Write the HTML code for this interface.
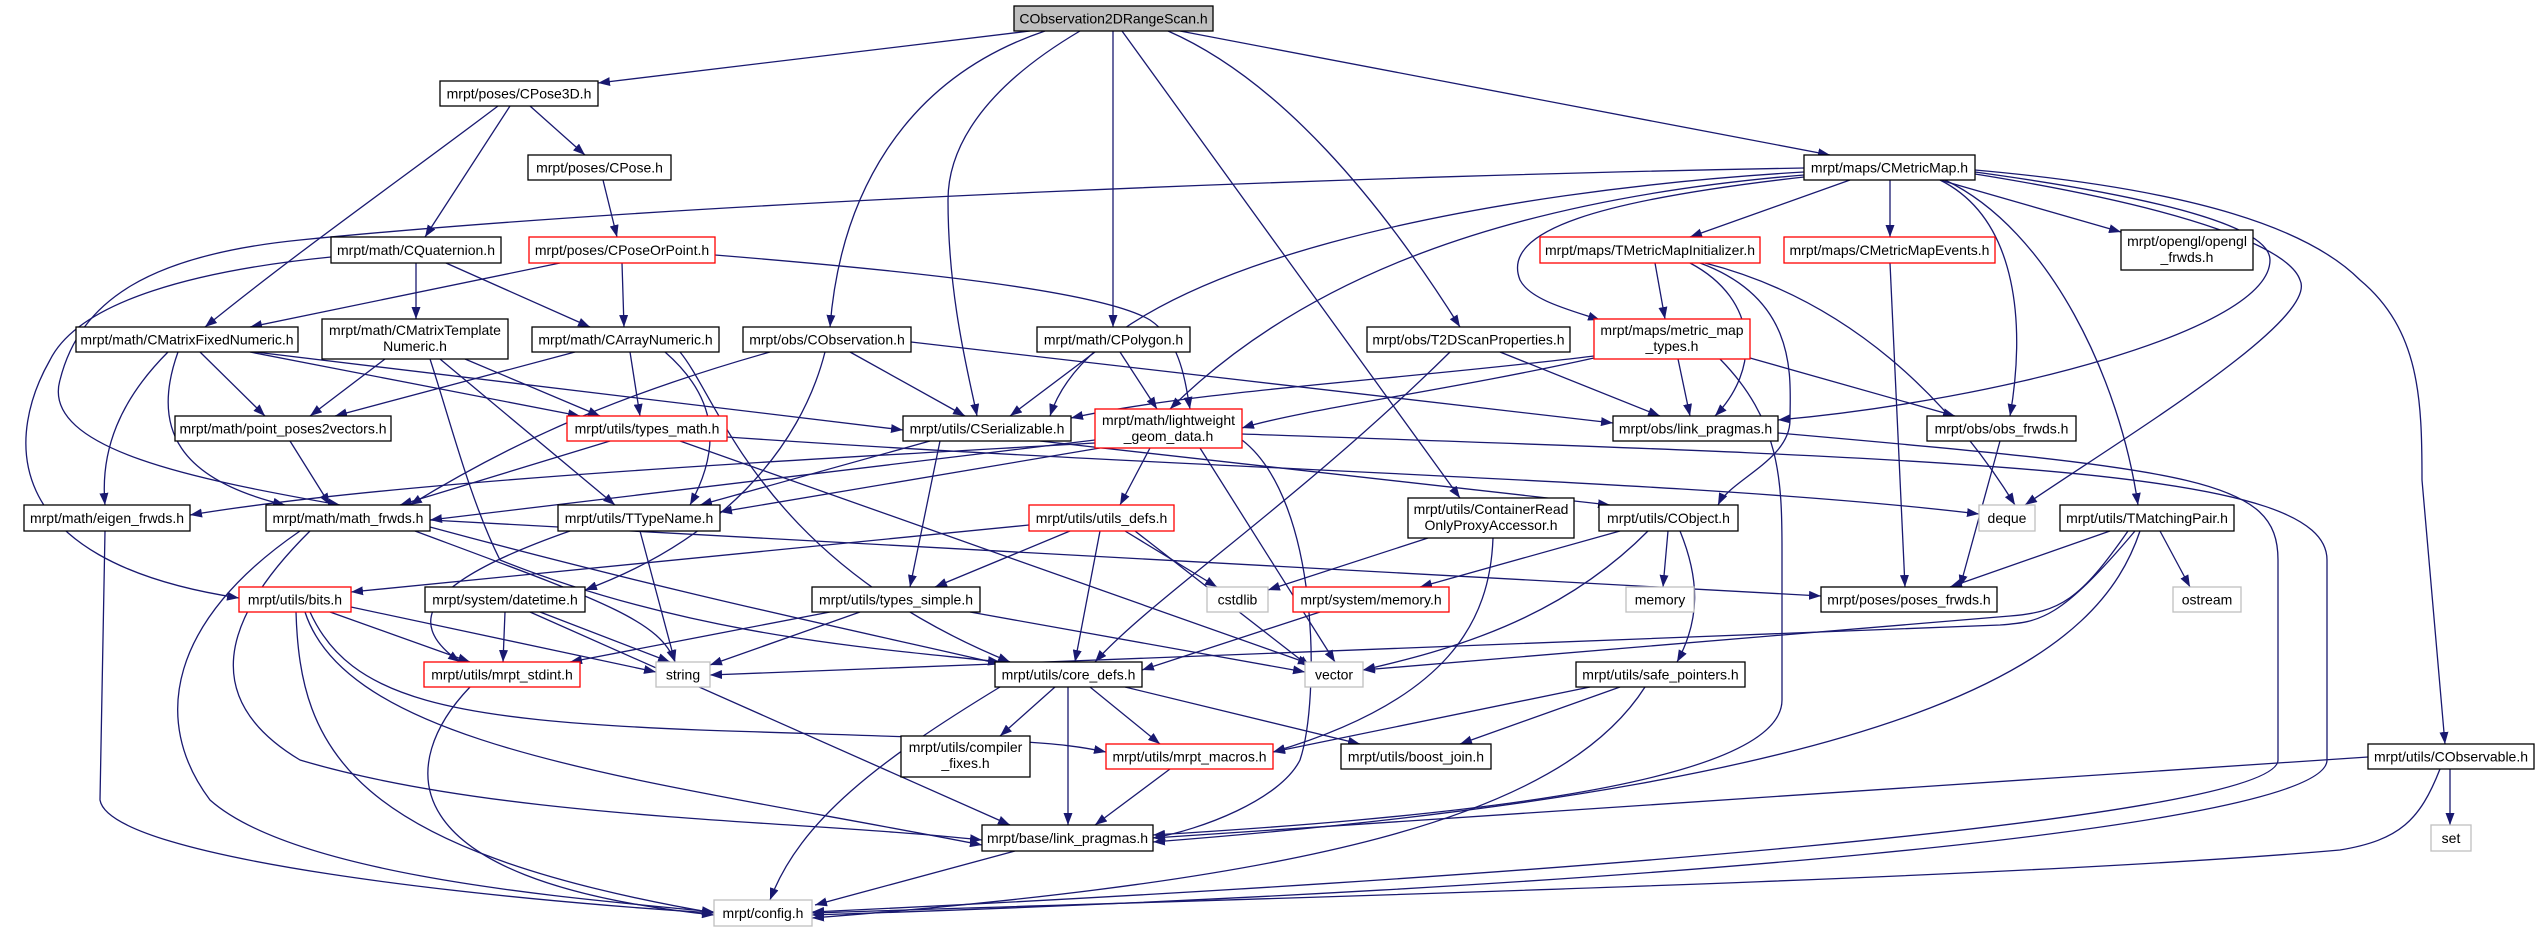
<!DOCTYPE html>
<html><head><meta charset="utf-8"><style>
html,body{margin:0;padding:0;background:#fff;}
svg{display:block;}
text{font-family:"Liberation Sans",sans-serif;font-size:14px;fill:#000;}
.e{fill:none;stroke:#191970;stroke-width:1.3;marker-end:url(#a);}
.n{fill:#fff;stroke:#000;stroke-width:1.3;}
.r{fill:#fff;stroke:#ff0000;stroke-width:1.3;}
.g{fill:#fff;stroke:#bfbfbf;stroke-width:1.3;}
</style></head><body>
<svg width="2540" height="932" viewBox="0 0 2540 932" xmlns="http://www.w3.org/2000/svg">
<defs><marker id="a" markerUnits="userSpaceOnUse" markerWidth="12" markerHeight="9" refX="12" refY="4.5" orient="auto"><path d="M0,0 L12,4.5 L0,9 z" fill="#191970"/></marker></defs>
<g>
<!-- root -->
<path class="e" d="M1030,31 L598,83"/>
<path class="e" d="M1045,31 C900,80 840,200 830,327"/>
<path class="e" d="M1080,31 C980,90 948,150 948,200 C948,300 970,380 977,416"/>
<path class="e" d="M1113,31 L1113,327"/>
<path class="e" d="M1122,31 L1460,498"/>
<path class="e" d="M1168,31 C1280,80 1380,200 1460,327"/>
<path class="e" d="M1180,31 L1830,155"/>
<!-- CPose3D -->
<path class="e" d="M530,106 L585,155"/>
<path class="e" d="M510,106 L425,237"/>
<path class="e" d="M498,106 C400,180 300,250 205,327"/>
<path class="e" d="M603,180 L617,237"/>
<!-- CPoseOrPoint -->
<path class="e" d="M560,263 L250,327"/>
<path class="e" d="M622,263 L624,327"/>
<path class="e" d="M715,255 C900,270 1100,290 1150,320 C1180,340 1185,380 1190,409"/>
<!-- CQuaternion -->
<path class="e" d="M416,263 L416,319"/>
<path class="e" d="M446,263 L590,327"/>
<path class="e" d="M331,257 C200,270 80,300 50,360 C10,430 -10,560 239,598"/>
<!-- CMetricMap -->
<path class="e" d="M1804,168 C1400,175 700,200 300,240 C150,255 80,300 60,380 C40,450 200,480 340,505"/>
<path class="e" d="M1804,172 C1500,190 1100,260 1050,416"/>
<path class="e" d="M1804,175 C1500,200 1300,280 1170,409"/>
<path class="e" d="M1804,177 C1600,200 1500,230 1520,280 C1530,300 1570,310 1600,320"/>
<path class="e" d="M1850,180 L1690,237"/>
<path class="e" d="M1890,180 L1890,237"/>
<path class="e" d="M1940,180 L2121,232"/>
<path class="e" d="M1940,180 C2020,220 2025,330 2010,416"/>
<path class="e" d="M1945,180 C2050,230 2120,380 2138,505"/>
<path class="e" d="M1975,172 C2180,200 2270,230 2270,260 C2270,330 2000,400 1778,420"/>
<path class="e" d="M1975,174 C2200,210 2290,250 2300,280 C2320,320 2120,440 2025,505"/>
<path class="e" d="M1975,170 C2200,190 2310,230 2360,280 C2420,330 2422,400 2422,480 L2445,744"/>
<!-- TMetricMapInitializer -->
<path class="e" d="M1655,263 L1665,319"/>
<path class="e" d="M1690,263 C1760,300 1760,370 1715,416"/>
<path class="e" d="M1700,263 C1800,300 1790,380 1790,420 C1790,460 1730,480 1718,505"/>
<path class="e" d="M1705,263 C1850,300 1950,400 2015,505"/>
<path class="e" d="M1890,263 L1905,587"/>
<!-- T2DScan / metric_map_types -->
<path class="e" d="M1500,352 L1660,416"/>
<path class="e" d="M1450,352 C1300,500 1150,600 1095,662"/>
<path class="e" d="M1678,359 L1690,416"/>
<path class="e" d="M1594,356 C1400,380 1200,390 1071,418"/>
<path class="e" d="M1594,358 C1450,390 1300,410 1242,428"/>
<path class="e" d="M1750,358 L1955,416"/>
<!-- CMatrixFixedNumeric -->
<path class="e" d="M200,352 L265,416"/>
<path class="e" d="M250,352 L580,416"/>
<path class="e" d="M255,352 L903,430"/>
<path class="e" d="M168,352 C120,400 100,450 105,505"/>
<path class="e" d="M178,352 C150,430 180,480 285,505"/>
<!-- CMatrixTemplate -->
<path class="e" d="M385,359 L310,416"/>
<path class="e" d="M465,359 L600,416"/>
<path class="e" d="M440,359 L615,505"/>
<path class="e" d="M430,359 C450,420 470,500 500,560 C700,640 900,650 1000,662"/>
<!-- CArrayNumeric -->
<path class="e" d="M575,352 L335,416"/>
<path class="e" d="M630,352 L640,416"/>
<path class="e" d="M665,352 C720,400 720,450 690,505"/>
<path class="e" d="M680,352 C720,400 760,560 1010,662"/>
<!-- CObservation -->
<path class="e" d="M850,352 L965,416"/>
<path class="e" d="M911,342 L1613,423"/>
<path class="e" d="M770,352 C600,400 500,450 410,505"/>
<path class="e" d="M825,352 C800,450 720,540 585,590"/>
<!-- CPolygon -->
<path class="e" d="M1095,352 L1010,416"/>
<path class="e" d="M1120,352 L1157,409"/>
<!-- types_math / point_poses -->
<path class="e" d="M610,441 L400,505"/>
<path class="e" d="M680,441 L1310,664"/>
<path class="e" d="M727,437 C1200,470 1700,480 1979,514"/>
<path class="e" d="M290,441 L330,505"/>
<!-- CSerializable -->
<path class="e" d="M1040,441 L1610,505"/>
<path class="e" d="M940,441 L910,587"/>
<path class="e" d="M930,441 L700,505"/>
<!-- lightweight -->
<path class="e" d="M1095,440 L430,520"/>
<path class="e" d="M1095,443 C800,460 400,480 190,515"/>
<path class="e" d="M1100,448 L720,512"/>
<path class="e" d="M1150,448 L1120,505"/>
<path class="e" d="M1200,448 L1335,662"/>
<path class="e" d="M1242,440 C1320,500 1320,700 1300,760 C1280,800 1200,830 1153,838"/>
<path class="e" d="M1242,434 C2000,460 2327,470 2327,560 L2327,760 C2327,830 1600,890 812,915"/>
<path class="e" d="M1778,433 C2200,470 2278,480 2278,560 L2278,760 C2278,820 1500,880 812,912"/>
<path class="e" d="M1720,359 C1780,420 1782,480 1782,550 L1782,700 C1782,790 1400,820 1153,835"/>
<!-- TMatchingPair -->
<path class="e" d="M2140,531 C2100,650 1950,780 1153,842"/>
<path class="e" d="M2110,531 L1950,587"/>
<path class="e" d="M2160,531 L2190,587"/>
<path class="e" d="M2128,531 C2080,600 2060,612 2010,616 L1363,670"/>
<path class="e" d="M2135,531 C2060,620 2040,622 2000,625 L710,675"/>
<!-- CObservable -->
<path class="e" d="M2368,757 L1153,838"/>
<path class="e" d="M2440,769 C2420,820 2400,840 2340,850 C2000,880 1200,900 812,913"/>
<path class="e" d="M2450,769 L2450,825"/>
<!-- math_frwds -->
<path class="e" d="M415,531 C600,600 660,620 675,662"/>
<path class="e" d="M310,531 C220,620 200,700 300,760 C500,820 800,820 982,840"/>
<path class="e" d="M300,531 C170,620 150,720 210,800 C300,880 600,900 714,912"/>
<path class="e" d="M430,520 L1821,596"/>
<path class="e" d="M430,527 C700,600 900,640 1000,664"/>
<!-- eigen_frwds -->
<path class="e" d="M105,531 L100,800 C110,860 500,900 714,913"/>
<!-- TTypeName -->
<path class="e" d="M640,531 L675,662"/>
<path class="e" d="M570,531 C430,580 400,620 460,662"/>
<!-- utils_defs -->
<path class="e" d="M1029,525 L351,592"/>
<path class="e" d="M1070,531 L935,587"/>
<path class="e" d="M1100,531 L1075,662"/>
<path class="e" d="M1125,531 L1217,587"/>
<path class="e" d="M1135,531 L1310,667"/>
<!-- ContainerRO -->
<path class="e" d="M1428,538 L1268,590"/>
<path class="e" d="M1493,538 C1490,620 1450,700 1273,752"/>
<!-- CObject -->
<path class="e" d="M1620,531 L1420,587"/>
<path class="e" d="M1668,531 L1663,587"/>
<path class="e" d="M1648,531 C1560,620 1450,650 1363,670"/>
<path class="e" d="M1680,531 C1700,580 1700,620 1677,662"/>
<path class="e" d="M1320,612 L1142,670"/>
<!-- bits -->
<path class="e" d="M330,612 L470,662"/>
<path class="e" d="M351,607 L656,672"/>
<path class="e" d="M310,612 C350,700 450,720 700,730 C1000,740 1050,740 1106,752"/>
<path class="e" d="M305,612 C350,750 650,780 982,845"/>
<path class="e" d="M296,612 C300,750 350,850 714,913"/>
<!-- datetime -->
<path class="e" d="M505,612 L503,662"/>
<path class="e" d="M540,612 L670,662"/>
<path class="e" d="M530,612 L1010,825"/>
<!-- types_simple -->
<path class="e" d="M830,612 L570,662"/>
<path class="e" d="M860,612 L710,665"/>
<path class="e" d="M970,612 L1305,672"/>
<!-- stdint/core_defs -->
<path class="e" d="M470,687 C400,760 380,880 714,915"/>
<path class="e" d="M1055,687 L1000,736"/>
<path class="e" d="M1090,687 L1160,744"/>
<path class="e" d="M1068,687 L1068,825"/>
<path class="e" d="M1125,687 L1360,744"/>
<path class="e" d="M1000,687 C880,760 800,820 770,900"/>
<path class="e" d="M1170,769 L1095,825"/>
<!-- safe_pointers -->
<path class="e" d="M1590,687 L1273,752"/>
<path class="e" d="M1620,687 L1460,744"/>
<path class="e" d="M1645,687 C1560,820 1300,880 812,918"/>
<path class="e" d="M1015,851 L815,905"/>
<path class="e" d="M2000,441 L1960,587"/>
</g>
<g>
<rect x="1014" y="6" width="199" height="25" fill="#bfbfbf" stroke="#000" stroke-width="1.3"/><text x="1113.5" y="23.5" text-anchor="middle">CObservation2DRangeScan.h</text>
<rect class="n" x="440" y="81" width="158" height="25"/><text x="519" y="98.5" text-anchor="middle">mrpt/poses/CPose3D.h</text>
<rect class="n" x="1804" y="155" width="171" height="25"/><text x="1889.5" y="172.5" text-anchor="middle">mrpt/maps/CMetricMap.h</text>
<rect class="n" x="528" y="155" width="143" height="25"/><text x="599.5" y="172.5" text-anchor="middle">mrpt/poses/CPose.h</text>
<rect class="n" x="331" y="237" width="170" height="26"/><text x="416" y="255" text-anchor="middle">mrpt/math/CQuaternion.h</text>
<rect class="r" x="529" y="237" width="186" height="26"/><text x="622" y="255" text-anchor="middle">mrpt/poses/CPoseOrPoint.h</text>
<rect class="r" x="1540" y="237" width="220" height="26"/><text x="1650" y="255" text-anchor="middle">mrpt/maps/TMetricMapInitializer.h</text>
<rect class="r" x="1784" y="237" width="211" height="26"/><text x="1889.5" y="255" text-anchor="middle">mrpt/maps/CMetricMapEvents.h</text>
<rect class="n" x="2121" y="230" width="132" height="40"/><text x="2187" y="246" text-anchor="middle">mrpt/opengl/opengl</text><text x="2187" y="262" text-anchor="middle">_frwds.h</text>
<rect class="n" x="76" y="327" width="222" height="25"/><text x="187" y="344.5" text-anchor="middle">mrpt/math/CMatrixFixedNumeric.h</text>
<rect class="n" x="322" y="319" width="186" height="40"/><text x="415" y="335" text-anchor="middle">mrpt/math/CMatrixTemplate</text><text x="415" y="351" text-anchor="middle">Numeric.h</text>
<rect class="n" x="532" y="327" width="187" height="25"/><text x="625.5" y="344.5" text-anchor="middle">mrpt/math/CArrayNumeric.h</text>
<rect class="n" x="743" y="327" width="168" height="25"/><text x="827" y="344.5" text-anchor="middle">mrpt/obs/CObservation.h</text>
<rect class="n" x="1037" y="327" width="153" height="25"/><text x="1113.5" y="344.5" text-anchor="middle">mrpt/math/CPolygon.h</text>
<rect class="n" x="1367" y="327" width="203" height="25"/><text x="1468.5" y="344.5" text-anchor="middle">mrpt/obs/T2DScanProperties.h</text>
<rect class="r" x="1594" y="319" width="156" height="40"/><text x="1672" y="335" text-anchor="middle">mrpt/maps/metric_map</text><text x="1672" y="351" text-anchor="middle">_types.h</text>
<rect class="n" x="175" y="416" width="216" height="25"/><text x="283" y="433.5" text-anchor="middle">mrpt/math/point_poses2vectors.h</text>
<rect class="r" x="567" y="416" width="160" height="25"/><text x="647" y="433.5" text-anchor="middle">mrpt/utils/types_math.h</text>
<rect class="n" x="903" y="416" width="168" height="25"/><text x="987" y="433.5" text-anchor="middle">mrpt/utils/CSerializable.h</text>
<rect class="r" x="1095" y="409" width="147" height="39"/><text x="1168.5" y="425" text-anchor="middle">mrpt/math/lightweight</text><text x="1168.5" y="441" text-anchor="middle">_geom_data.h</text>
<rect class="n" x="1613" y="416" width="165" height="25"/><text x="1695.5" y="433.5" text-anchor="middle">mrpt/obs/link_pragmas.h</text>
<rect class="n" x="1927" y="416" width="149" height="25"/><text x="2001.5" y="433.5" text-anchor="middle">mrpt/obs/obs_frwds.h</text>
<rect class="n" x="24" y="505" width="166" height="26"/><text x="107" y="523" text-anchor="middle">mrpt/math/eigen_frwds.h</text>
<rect class="n" x="266" y="505" width="164" height="26"/><text x="348" y="523" text-anchor="middle">mrpt/math/math_frwds.h</text>
<rect class="n" x="558" y="505" width="162" height="26"/><text x="639" y="523" text-anchor="middle">mrpt/utils/TTypeName.h</text>
<rect class="r" x="1029" y="505" width="145" height="26"/><text x="1101.5" y="523" text-anchor="middle">mrpt/utils/utils_defs.h</text>
<rect class="n" x="1408" y="498" width="166" height="40"/><text x="1491" y="514" text-anchor="middle">mrpt/utils/ContainerRead</text><text x="1491" y="530" text-anchor="middle">OnlyProxyAccessor.h</text>
<rect class="n" x="1599" y="505" width="139" height="26"/><text x="1668.5" y="523" text-anchor="middle">mrpt/utils/CObject.h</text>
<rect class="g" x="1979" y="505" width="56" height="26"/><text x="2007" y="523" text-anchor="middle">deque</text>
<rect class="n" x="2060" y="505" width="174" height="26"/><text x="2147" y="523" text-anchor="middle">mrpt/utils/TMatchingPair.h</text>
<rect class="r" x="239" y="587" width="112" height="25"/><text x="295" y="604.5" text-anchor="middle">mrpt/utils/bits.h</text>
<rect class="n" x="425" y="587" width="160" height="25"/><text x="505" y="604.5" text-anchor="middle">mrpt/system/datetime.h</text>
<rect class="n" x="812" y="587" width="168" height="25"/><text x="896" y="604.5" text-anchor="middle">mrpt/utils/types_simple.h</text>
<rect class="g" x="1207" y="587" width="61" height="25"/><text x="1237.5" y="604.5" text-anchor="middle">cstdlib</text>
<rect class="r" x="1293" y="587" width="156" height="25"/><text x="1371" y="604.5" text-anchor="middle">mrpt/system/memory.h</text>
<rect class="g" x="1626" y="587" width="68" height="25"/><text x="1660" y="604.5" text-anchor="middle">memory</text>
<rect class="n" x="1821" y="587" width="176" height="25"/><text x="1909" y="604.5" text-anchor="middle">mrpt/poses/poses_frwds.h</text>
<rect class="g" x="2173" y="587" width="68" height="25"/><text x="2207" y="604.5" text-anchor="middle">ostream</text>
<rect class="r" x="424" y="662" width="156" height="25"/><text x="502" y="679.5" text-anchor="middle">mrpt/utils/mrpt_stdint.h</text>
<rect class="g" x="656" y="662" width="54" height="25"/><text x="683" y="679.5" text-anchor="middle">string</text>
<rect class="n" x="995" y="662" width="147" height="25"/><text x="1068.5" y="679.5" text-anchor="middle">mrpt/utils/core_defs.h</text>
<rect class="g" x="1305" y="662" width="58" height="25"/><text x="1334" y="679.5" text-anchor="middle">vector</text>
<rect class="n" x="1576" y="662" width="169" height="25"/><text x="1660.5" y="679.5" text-anchor="middle">mrpt/utils/safe_pointers.h</text>
<rect class="n" x="901" y="736" width="129" height="41"/><text x="965.5" y="752" text-anchor="middle">mrpt/utils/compiler</text><text x="965.5" y="768" text-anchor="middle">_fixes.h</text>
<rect class="r" x="1106" y="744" width="167" height="25"/><text x="1189.5" y="761.5" text-anchor="middle">mrpt/utils/mrpt_macros.h</text>
<rect class="n" x="1341" y="744" width="150" height="25"/><text x="1416" y="761.5" text-anchor="middle">mrpt/utils/boost_join.h</text>
<rect class="n" x="2368" y="744" width="166" height="25"/><text x="2451" y="761.5" text-anchor="middle">mrpt/utils/CObservable.h</text>
<rect class="n" x="982" y="825" width="171" height="26"/><text x="1067.5" y="843" text-anchor="middle">mrpt/base/link_pragmas.h</text>
<rect class="g" x="2431" y="825" width="40" height="26"/><text x="2451" y="843" text-anchor="middle">set</text>
<rect class="g" x="714" y="900" width="98" height="26"/><text x="763" y="918" text-anchor="middle">mrpt/config.h</text>
</g>
</svg>
</body></html>
